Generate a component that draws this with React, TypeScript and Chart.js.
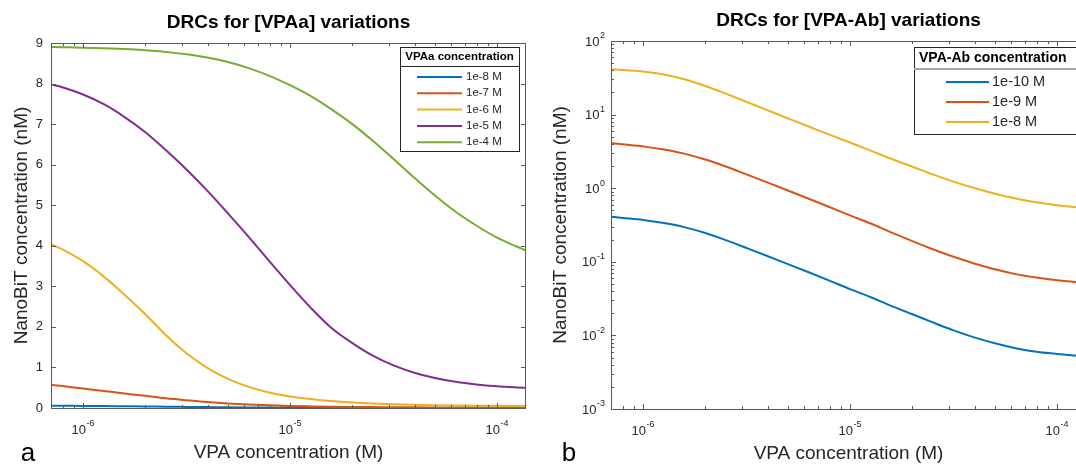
import React, { useEffect, useRef } from 'react';
import { Chart, registerables } from 'chart.js';

Chart.register(...registerables);

// ---------------- data ----------------
const vpaConc = [
  7.0e-7, 7.94e-7, 1.0e-6, 1.26e-6, 1.58e-6, 2.0e-6, 2.51e-6, 3.16e-6, 3.98e-6, 5.01e-6,
  6.31e-6, 7.94e-6, 1.0e-5, 1.26e-5, 1.58e-5, 2.0e-5, 2.51e-5, 3.16e-5, 3.98e-5, 5.01e-5,
  6.31e-5, 7.94e-5, 1.0e-4, 1.26e-4, 1.38e-4,
];

// Panel a: [VPAa] variations (nM, linear)
const vpaaLabels = ['1e-8 M', '1e-7 M', '1e-6 M', '1e-5 M', '1e-4 M'];
const vpaa1e8 = [0.057, 0.055, 0.052, 0.048, 0.043, 0.038, 0.032, 0.027, 0.022, 0.017, 0.013, 0.010, 0.008, 0.006, 0.005, 0.004, 0.003, 0.0025, 0.002, 0.0017, 0.0015, 0.0013, 0.0012, 0.0011, 0.0011];
const vpaa1e7 = [0.57, 0.54, 0.48, 0.42, 0.36, 0.30, 0.24, 0.19, 0.145, 0.11, 0.085, 0.065, 0.05, 0.04, 0.032, 0.026, 0.022, 0.018, 0.016, 0.014, 0.012, 0.011, 0.010, 0.010, 0.010];
const vpaa1e6 = [4.04, 3.91, 3.62, 3.24, 2.80, 2.31, 1.80, 1.35, 0.99, 0.72, 0.52, 0.38, 0.285, 0.22, 0.17, 0.135, 0.11, 0.093, 0.08, 0.07, 0.063, 0.058, 0.054, 0.051, 0.05];
const vpaa1e5 = [7.98, 7.91, 7.73, 7.49, 7.18, 6.80, 6.36, 5.88, 5.36, 4.80, 4.22, 3.62, 3.03, 2.47, 1.98, 1.60, 1.29, 1.05, 0.87, 0.74, 0.645, 0.58, 0.535, 0.505, 0.495];
const vpaa1e4 = [8.90, 8.895, 8.885, 8.87, 8.85, 8.82, 8.78, 8.72, 8.64, 8.53, 8.38, 8.19, 7.96, 7.69, 7.37, 7.00, 6.59, 6.14, 5.68, 5.24, 4.84, 4.50, 4.20, 3.97, 3.88];

// Panel b: [VPA-Ab] variations (nM, log)
const vpaAbLabels = ['1e-10 M', '1e-9 M', '1e-8 M'];
const vpaAb1e10 = [0.41, 0.395, 0.37, 0.336, 0.296, 0.246, 0.197, 0.154, 0.12, 0.093, 0.072, 0.0555, 0.0425, 0.033, 0.0252, 0.0194, 0.015, 0.0117, 0.0094, 0.0078, 0.0067, 0.006, 0.0056, 0.0053, 0.0052];
const vpaAb1e9 = [4.1, 3.95, 3.7, 3.35, 2.95, 2.45, 1.97, 1.54, 1.2, 0.93, 0.72, 0.555, 0.427, 0.331, 0.251, 0.191, 0.148, 0.117, 0.095, 0.079, 0.068, 0.061, 0.056, 0.053, 0.052];
const vpaAb1e8 = [41.2, 40.5, 38.5, 35.1, 30.2, 24.5, 19.3, 14.9, 11.5, 8.87, 6.89, 5.35, 4.17, 3.24, 2.51, 1.96, 1.54, 1.23, 1.005, 0.841, 0.724, 0.643, 0.586, 0.547, 0.535];

// axes
const xMin = 7.0e-7;
const xMax = 1.38e-4;
const xTickExponents = [-6, -5, -4];
const leftYTicks = [0, 1, 2, 3, 4, 5, 6, 7, 8, 9];
const rightYTickExponents = [-3, -2, -1, 0, 1, 2];

const titleA = 'DRCs for [VPAa] variations';
const titleB = 'DRCs for [VPA-Ab] variations';
const xTitle = 'VPA concentration (M)';
const yTitle = 'NanoBiT concentration (nM)';
const legendTitleA = 'VPAa concentration';
const legendTitleB = 'VPA-Ab concentration';

const COLORS = ['#0072BD', '#D95319', '#EDB120', '#7E2F8E', '#77AC30'];
const FONT = "'Liberation Sans', Arial, Helvetica, sans-serif";
const TXT = '#262626';
const AXIS = '#5a5a5a';

function drawPow10(ctx: CanvasRenderingContext2D, exp: number, x: number, y: number, align: 'center' | 'right') {
  const base = '10';
  const sup = String(exp);
  ctx.font = `13px ${FONT}`;
  const wb = ctx.measureText(base).width;
  ctx.font = `9px ${FONT}`;
  const ws = ctx.measureText(sup).width;
  const total = wb + ws + 0.5;
  const x0 = align === 'center' ? x - total / 2 : x - total;
  ctx.textAlign = 'left';
  ctx.textBaseline = 'middle';
  ctx.fillStyle = TXT;
  ctx.font = `13px ${FONT}`;
  ctx.fillText(base, x0, y);
  ctx.font = `9px ${FONT}`;
  ctx.fillText(sup, x0 + wb + 0.5, y - 6);
}

const decorPlugin = {
  id: 'decor',
  afterDraw(chart: any, _args: any, opts: any) {
    const { ctx, chartArea: a, scales } = chart;
    const xs = scales.x;
    const ys = scales.y;
    ctx.save();

    // ticks
    ctx.strokeStyle = AXIS;
    ctx.lineWidth = 1;
    ctx.beginPath();
    const majorLen = 5;
    const minorLen = 3;
    for (let n = -7; n <= -4; n++) {
      for (let k = 1; k <= 9; k++) {
        const v = k * Math.pow(10, n);
        if (v < xMin || v > xMax) continue;
        const px = Math.round(xs.getPixelForValue(v)) + 0.5;
        const len = k === 1 ? majorLen : minorLen;
        ctx.moveTo(px, a.bottom);
        ctx.lineTo(px, a.bottom - len);
        ctx.moveTo(px, a.top);
        ctx.lineTo(px, a.top + len);
      }
    }
    if (opts.yLog) {
      for (let n = -3; n <= 2; n++) {
        for (let k = 1; k <= 9; k++) {
          const v = k * Math.pow(10, n);
          if (v > 100) continue;
          const py = Math.round(ys.getPixelForValue(v)) + 0.5;
          const len = k === 1 ? majorLen : minorLen;
          ctx.moveTo(a.left, py);
          ctx.lineTo(a.left + len, py);
          ctx.moveTo(a.right, py);
          ctx.lineTo(a.right - len, py);
        }
      }
    } else {
      for (const v of leftYTicks) {
        const py = Math.round(ys.getPixelForValue(v)) + 0.5;
        ctx.moveTo(a.left, py);
        ctx.lineTo(a.left + majorLen, py);
        ctx.moveTo(a.right, py);
        ctx.lineTo(a.right - majorLen, py);
      }
    }
    ctx.stroke();

    // box
    ctx.strokeRect(a.left + 0.5, a.top + 0.5, a.right - a.left - 1, a.bottom - a.top);

    // tick labels
    for (const e of xTickExponents) {
      const px = xs.getPixelForValue(Math.pow(10, e));
      drawPow10(ctx, e, px, a.bottom + 22, 'center');
    }
    if (opts.yLog) {
      for (const e of rightYTickExponents) {
        const py = ys.getPixelForValue(Math.pow(10, e));
        drawPow10(ctx, e, a.left - 6, py + 1, 'right');
      }
    } else {
      ctx.font = `13px ${FONT}`;
      ctx.fillStyle = TXT;
      ctx.textAlign = 'right';
      ctx.textBaseline = 'middle';
      for (const v of leftYTicks) {
        ctx.fillText(String(v), a.left - 8, ys.getPixelForValue(v));
      }
    }

    const cx = (a.left + a.right) / 2;
    const cy = (a.top + a.bottom) / 2;

    // title
    ctx.fillStyle = '#000';
    ctx.font = `bold 19px ${FONT}`;
    ctx.textAlign = 'center';
    ctx.textBaseline = 'middle';
    ctx.fillText(opts.title, cx, a.top - 20);

    // axis titles
    ctx.fillStyle = TXT;
    ctx.font = `19px ${FONT}`;
    ctx.fillText(xTitle, cx, a.bottom + 45);
    ctx.save();
    ctx.translate(opts.yTitleX, cy);
    ctx.rotate(-Math.PI / 2);
    ctx.fillText(yTitle, 0, 0);
    ctx.restore();

    // panel letter
    ctx.fillStyle = '#000';
    ctx.font = `26px ${FONT}`;
    ctx.textAlign = 'center';
    ctx.textBaseline = 'alphabetic';
    ctx.fillText(opts.letter, opts.letterX, 461);

    // legend
    const L = opts.legend;
    ctx.fillStyle = '#fff';
    ctx.fillRect(L.x, L.y, L.w, L.h);
    ctx.strokeStyle = '#262626';
    ctx.lineWidth = 1;
    ctx.strokeRect(L.x + 0.5, L.y + 0.5, L.w, L.h);
    ctx.strokeStyle = L.sepColor;
    ctx.lineWidth = L.sepWidth;
    ctx.beginPath();
    ctx.moveTo(L.x, L.sepY);
    ctx.lineTo(L.x + L.w, L.sepY);
    ctx.stroke();
    ctx.fillStyle = '#000';
    ctx.font = `bold ${L.titleSize}px ${FONT}`;
    ctx.textAlign = L.titleAlign;
    ctx.textBaseline = 'middle';
    ctx.fillText(L.title, L.titleX, L.titleY);
    ctx.font = `${L.fontSize}px ${FONT}`;
    ctx.textAlign = 'left';
    const ds = chart.data.datasets;
    ds.forEach((d: any, i: number) => {
      const y = L.firstY + i * L.step;
      ctx.strokeStyle = d.borderColor;
      ctx.lineWidth = 2;
      ctx.beginPath();
      ctx.moveTo(L.sx1, y);
      ctx.lineTo(L.sx2, y);
      ctx.stroke();
      ctx.fillStyle = TXT;
      ctx.fillText(d.label, L.tx, y);
    });

    ctx.restore();
  },
};

function makeConfig(kind: 'a' | 'b'): any {
  const isA = kind === 'a';
  const series = isA ? [vpaa1e8, vpaa1e7, vpaa1e6, vpaa1e5, vpaa1e4] : [vpaAb1e10, vpaAb1e9, vpaAb1e8];
  const labels = isA ? vpaaLabels : vpaAbLabels;
  const n = series.length;
  const offset = isA ? 0 : 536;
  return {
    type: 'line',
    data: {
      datasets: series.map((s, i) => ({
        label: labels[i],
        data: vpaConc.map((x, j) => ({ x, y: s[j] })),
        borderColor: COLORS[i],
        backgroundColor: COLORS[i],
        borderWidth: 2,
        pointRadius: 0,
        cubicInterpolationMode: 'monotone',
        fill: false,
        order: n - i,
        clip: { left: 0, right: 0, top: 2, bottom: 2 },
      })),
    },
    options: {
      responsive: false,
      animation: false,
      devicePixelRatio: 1,
      events: [],
      layout: isA
        ? { padding: { left: 51, right: 14, top: 43, bottom: 56 } }
        : { padding: { left: 75, right: 10, top: 41, bottom: 55 } },
      scales: {
        x: { type: 'logarithmic', min: xMin, max: xMax, display: false },
        y: isA
          ? { type: 'linear', min: 0, max: 9, display: false }
          : { type: 'logarithmic', min: 1e-3, max: 1e2, display: false },
      },
      plugins: {
        legend: { display: false },
        tooltip: { enabled: false },
        decor: {
          yLog: !isA,
          title: isA ? titleA : titleB,
          yTitleX: isA ? 22 : 561 - offset,
          letter: isA ? 'a' : 'b',
          letterX: isA ? 28 : 569 - offset,
          legend: isA
            ? {
                x: 400, y: 47, w: 119, h: 104, sepY: 66.5, sepColor: '#262626', sepWidth: 1,
                title: legendTitleA, titleSize: 11.5, titleAlign: 'center', titleX: 459.5, titleY: 57,
                fontSize: 11.5, firstY: 77, step: 16.3, sx1: 417, sx2: 462, tx: 466,
              }
            : {
                x: 914 - offset, y: 47, w: 170, h: 87, sepY: 69, sepColor: '#a6a6a6', sepWidth: 2,
                title: legendTitleB, titleSize: 14, titleAlign: 'left', titleX: 919 - offset, titleY: 58,
                fontSize: 14.5, firstY: 82, step: 20, sx1: 946 - offset, sx2: 989 - offset, tx: 992 - offset,
              },
        },
      },
    },
    plugins: [decorPlugin],
  };
}

function Panel({ kind, left, width }: { kind: 'a' | 'b'; left: number; width: number }) {
  const ref = useRef<HTMLCanvasElement>(null);
  useEffect(() => {
    if (!ref.current) return;
    const chart = new Chart(ref.current, makeConfig(kind));
    return () => chart.destroy();
  }, [kind]);
  return (
    <canvas
      ref={ref}
      width={width}
      height={464}
      style={{ position: 'absolute', left, top: 0, width, height: 464 }}
    />
  );
}

export default function App() {
  return (
    <div
      style={{
        position: 'fixed',
        left: 0,
        top: 0,
        width: 1076,
        height: 464,
        overflow: 'hidden',
        background: '#fff',
      }}
    >
      <Panel kind="a" left={0} width={540} />
      <Panel kind="b" left={536} width={560} />
    </div>
  );
}
